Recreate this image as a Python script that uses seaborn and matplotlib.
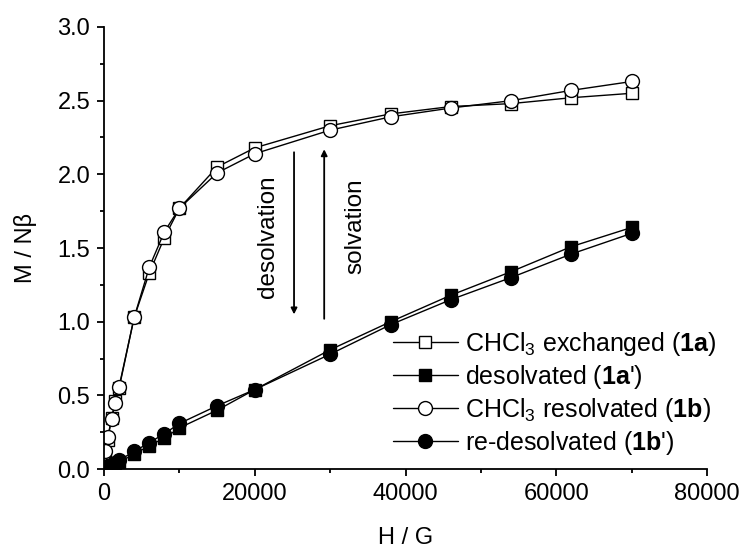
import numpy as np
import pandas as pd
import matplotlib
matplotlib.use("Agg")
import matplotlib.pyplot as plt
import seaborn as sns
from matplotlib.ticker import MultipleLocator

# ---- data ----
H = [100, 500, 1000, 1500, 2000, 4000, 6000, 8000, 10000, 15000, 20000,
     30000, 38000, 46000, 54000, 62000, 70000]
m_1a = [0.10, 0.20, 0.35, 0.46, 0.55, 1.03, 1.33, 1.57, 1.77, 2.05, 2.18,
        2.33, 2.41, 2.46, 2.48, 2.52, 2.55]
m_1a_p = [0.01, 0.02, 0.03, 0.04, 0.05, 0.10, 0.16, 0.21, 0.28, 0.40, 0.54,
          0.81, 1.00, 1.18, 1.34, 1.51, 1.64]
m_1b = [0.12, 0.22, 0.34, 0.45, 0.56, 1.03, 1.37, 1.61, 1.77, 2.01, 2.14,
        2.30, 2.39, 2.45, 2.50, 2.57, 2.63]
m_1b_p = [0.01, 0.02, 0.03, 0.04, 0.06, 0.12, 0.18, 0.24, 0.31, 0.43, 0.54,
          0.78, 0.98, 1.15, 1.30, 1.46, 1.60]

labels = ["CHCl$_3$ exchanged ($\\mathbf{1a}$)",
          "desolvated ($\\mathbf{1a}$')",
          "CHCl$_3$ resolvated ($\\mathbf{1b}$)",
          "re-desolvated ($\\mathbf{1b}$')"]

sns.set_style("ticks", {"axes.edgecolor": "black", "text.color": "black",
                        "axes.labelcolor": "black", "xtick.color": "black",
                        "ytick.color": "black"})
plt.rcParams['font.family'] = ['Liberation Sans', 'DejaVu Sans']
plt.rcParams['mathtext.fontset'] = 'custom'
plt.rcParams['mathtext.rm'] = 'Liberation Sans'
plt.rcParams['mathtext.it'] = 'Liberation Sans:italic'
plt.rcParams['mathtext.bf'] = 'Liberation Sans:bold'

fig = plt.figure(figsize=(7.41, 5.5), dpi=100)
ax = fig.add_axes([0.1404, 0.147, 0.814, 0.804])

series = [(m_1a, 's', 'white', 8.5),
          (m_1a_p, 's', 'black', 8.5),
          (m_1b, 'o', 'white', 10),
          (m_1b_p, 'o', 'black', 10)]
for (vals, mk, fc, ms), lab in zip(series, labels):
    df = pd.DataFrame({"H": H, "M": vals})
    sns.lineplot(data=df, x="H", y="M", ax=ax, color="black", lw=1.0,
                 marker=mk, markersize=ms, markerfacecolor=fc,
                 markeredgecolor="black", markeredgewidth=1.0, label=lab)

ax.set_xlim(0, 80000)
ax.set_ylim(0, 3.0)
ax.xaxis.set_major_locator(MultipleLocator(20000))
ax.xaxis.set_minor_locator(MultipleLocator(10000))
ax.yaxis.set_major_locator(MultipleLocator(0.5))
ax.yaxis.set_minor_locator(MultipleLocator(0.25))
ax.yaxis.set_major_formatter(matplotlib.ticker.FormatStrFormatter('%.1f'))
ax.tick_params(which='major', length=5, width=1.3, labelsize=17, direction='out', pad=5,
               colors='black')
ax.tick_params(which='minor', length=3, width=1.3, direction='out', colors='black')
for s in ['left', 'bottom']:
    ax.spines[s].set_linewidth(1.3)
    ax.spines[s].set_color('black')
sns.despine(ax=ax)
ax.set_xlabel("H / G", fontsize=17, labelpad=16, color='black')
ax.set_ylabel("M / Nβ", fontsize=17, labelpad=15, color='black')

# arrows
ax.annotate("", xy=(25200, 1.05), xytext=(25200, 2.15),
            arrowprops=dict(arrowstyle="-|>", color="black", lw=1.3,
                            mutation_scale=9, shrinkA=0, shrinkB=0))
ax.annotate("", xy=(29200, 2.17), xytext=(29200, 1.02),
            arrowprops=dict(arrowstyle="-|>", color="black", lw=1.3,
                            mutation_scale=9, shrinkA=0, shrinkB=0))
ax.text(21800, 1.58, "desolvation", rotation=90, ha='center', va='center',
        fontsize=17.5, color='black')
ax.text(33400, 1.65, "solvation", rotation=90, ha='center', va='center',
        fontsize=17.5, color='black')

leg = ax.legend(loc='lower right', bbox_to_anchor=(1.033, 0.005), frameon=False,
                fontsize=18, handlelength=2.6, handletextpad=0.3,
                labelspacing=0.2, borderaxespad=0)
for t in leg.get_texts():
    t.set_color('black')

fig.savefig("out.png", dpi=100)
